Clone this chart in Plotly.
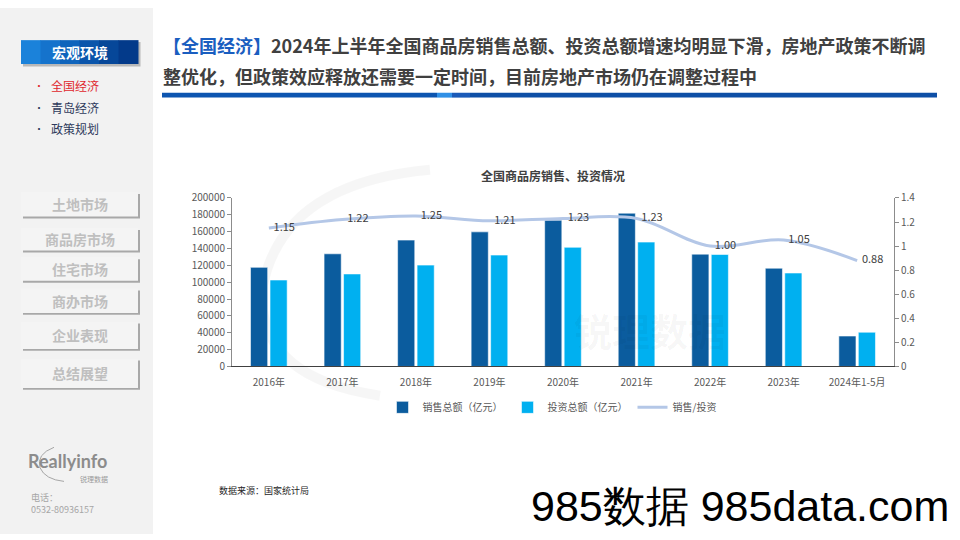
import plotly.graph_objects as go

# ---------------- data ----------------
categories = ["2016年", "2017年", "2018年", "2019年", "2020年", "2021年", "2022年", "2023年", "2024年1-5月"]
sales = [117627, 133701, 149973, 159725, 173613, 181930, 133308, 116622, 36100]
invest = [102581, 109799, 120264, 132194, 141443, 147602, 132895, 110913, 40632]
ratio = [1.15, 1.22, 1.25, 1.21, 1.23, 1.23, 1.00, 1.05, 0.88]

series_names = ["销售总额（亿元）", "投资总额（亿元）", "销售/投资"]
chart_title = "全国商品房销售、投资情况"
header_tag = "【全国经济】"
header_line1 = "2024年上半年全国商品房销售总额、投资总额增速均明显下滑，房地产政策不断调"
header_line2 = "整优化，但政策效应释放还需要一定时间，目前房地产市场仍在调整过程中"
side_top = "宏观环境"
side_sub = ["全国经济", "青岛经济", "政策规划"]
side_buttons = ["土地市场", "商品房市场", "住宅市场", "商办市场", "企业表现", "总结展望"]
source_text = "数据来源：国家统计局"

W, H = 960, 540
FONT = "Noto Sans CJK SC"


def X(px):
    return px / W


def Y(py):
    return 1 - py / H


def note(text, x, y, size, color, xanchor="center", family=FONT):
    return dict(text=text, x=X(x), y=Y(y), xref="paper", yref="paper", showarrow=False,
                xanchor=xanchor, yanchor="middle", font=dict(size=size, color=color, family=family))


fig = go.Figure()

fig.add_trace(go.Bar(
    x=categories, y=sales, name=series_names[0],
    marker=dict(color="#0B5C9E", line=dict(color="rgba(255,255,255,0.7)", width=0.8)),
))
fig.add_trace(go.Bar(
    x=categories, y=invest, name=series_names[1],
    marker=dict(color="#00B0F0", line=dict(color="rgba(255,255,255,0.7)", width=0.8)),
))
fig.add_trace(go.Scatter(
    x=categories, y=ratio, name=series_names[2], yaxis="y2",
    mode="lines+markers+text", line=dict(color="#B4C7E7", width=3, shape="spline", smoothing=1.0),
    marker=dict(size=6, color="rgba(0,0,0,0)"),
    text=[f"{v:.2f}" for v in ratio], textposition="middle right",
    textfont=dict(size=11, color="#404040", family=FONT),
))

shapes = []
annotations = []

# sidebar background
shapes.append(dict(type="rect", xref="paper", yref="paper", x0=0, x1=X(153), y0=0, y1=1,
                   fillcolor="#F2F2F2", line=dict(width=0), layer="below"))

# faint arc of the background logo
shapes.append(dict(type="path", xref="paper", yref="paper", layer="below",
                   path=f"M {X(430)},{Y(166)} Q {X(280)},{Y(180)} {X(262)},{Y(290)} Q {X(258)},{Y(380)} {X(380)},{Y(398)}",
                   line=dict(color="rgba(0,0,0,0.035)", width=10)))

# top blue button with shadow + gradient
shapes.append(dict(type="rect", xref="paper", yref="paper", x0=X(23), x1=X(140.5), y0=Y(60), y1=Y(35),
                   fillcolor="#B8B8B8", line=dict(width=0), layer="below"))
grad = ["#1B82DA", "#1573CC", "#0F64BC", "#0A55AB", "#064799", "#033A8A"]
bx0, bx1 = 21, 138
step = (bx1 - bx0) / len(grad)
for i, c in enumerate(grad):
    shapes.append(dict(type="rect", xref="paper", yref="paper",
                       x0=X(bx0 + i * step), x1=X(bx0 + (i + 1) * step + 0.5), y0=Y(57.5), y1=Y(33),
                       fillcolor=c, line=dict(width=0), layer="below"))
annotations.append(note("<b>" + side_top + "</b>", 79.5, 45.5, 14, "white"))

# sub menu
sub_y = [80, 102, 124]
for i, (t, yy) in enumerate(zip(side_sub, sub_y)):
    col = "#E0282E" if i == 0 else "#2E3A5C"
    annotations.append(note("•", 39, yy, 10, col))
    annotations.append(note(t, 49, yy, 12, col, xanchor="left"))

# grey buttons
btn_boxes = [(189, 214), (226, 249), (256, 280), (288, 313), (322, 350), (360, 390)]
for t, (y0, y1) in zip(side_buttons, btn_boxes):
    shapes.append(dict(type="rect", xref="paper", yref="paper", x0=X(23), x1=X(140), y0=Y(y1 + 2), y1=Y(y0 + 2),
                       fillcolor="#A8A8A8", line=dict(width=0), layer="below"))
    shapes.append(dict(type="rect", xref="paper", yref="paper", x0=X(21), x1=X(138), y0=Y(y1), y1=Y(y0),
                       fillcolor="#F4F4F4", line=dict(width=0), layer="below"))
    annotations.append(note("<b>" + t + "</b>", 79.5, (y0 + y1) / 2, 14, "#BFBFBF"))

# logo & phone
shapes.append(dict(type="path", xref="paper", yref="paper",
                   path=f"M {X(54)},{Y(451)} Q {X(36)},{Y(458)} {X(40)},{Y(472)} Q {X(45)},{Y(484)} {X(64)},{Y(486)}",
                   line=dict(color="#A6A6A6", width=1)))
annotations.append(note("<b>Reallyinfo</b>", 26, 465, 18, "#8C8C8C", xanchor="left", family="Lato"))
annotations.append(note("锐理数据", 110, 483.5, 7, "#9A9A9A", xanchor="right"))
annotations.append(note("电话：", 29, 503, 9, "#A6A6A6", xanchor="left"))
annotations.append(note("0532-80936157", 29, 514.5, 9, "#A6A6A6", xanchor="left"))

# header
annotations.append(note(f"<b><span style='color:#1A5EC0'>{header_tag}</span>{header_line1}</b>",
                        161, 38, 18, "#404040", xanchor="left"))
annotations.append(note(f"<b>{header_line2}</b>", 161, 70, 18, "#404040", xanchor="left"))
bar_segs = [(162, 437, "#0D55B0"), (437, 452, "#3090E6"), (452, 470, "#1A5AB8"), (470, 937, "#0E4FA6")]
for a, b, c in bar_segs:
    shapes.append(dict(type="rect", xref="paper", yref="paper", x0=X(a), x1=X(b), y0=Y(92), y1=Y(87),
                       fillcolor=c, line=dict(width=0)))

# faint background watermark (lower part of the logo)
annotations.append(note("<b>锐理数据</b>", 650, 330, 38, "rgba(0,0,0,0.04)"))

# chart title
annotations.append(note("<b>" + chart_title + "</b>", 553, 172, 12, "#404040"))

# source
annotations.append(note(source_text, 217, 495, 9, "#262626", xanchor="left"))

# site watermark
annotations.append(note("985数据 985data.com", 951, 511, 43, "#000000", xanchor="right",
                        family="Liberation Sans"))

fig.update_layout(
    width=W, height=H,
    margin=dict(l=0, r=0, t=0, b=0),
    paper_bgcolor="white", plot_bgcolor="rgba(0,0,0,0)",
    font=dict(family=FONT, size=10, color="#595959"),
    barmode="group", bargap=0.47, bargroupgap=0.12,
    showlegend=True,
    legend=dict(orientation="h", x=X(552), y=Y(410), xanchor="center", yanchor="middle",
                font=dict(size=10, color="#595959", family=FONT), itemwidth=30, tracegroupgap=0,
                bgcolor="rgba(0,0,0,0)"),
    xaxis=dict(domain=[X(232), X(894)], showgrid=False, showline=True, linecolor="#404040", linewidth=1,
               ticks="outside", ticklen=7, tickcolor="rgba(0,0,0,0)",
               tickfont=dict(size=10, color="#595959")),
    yaxis=dict(domain=[Y(368), Y(195)], range=[0, 200000], dtick=20000, tickformat="d",
               showgrid=False, zeroline=False, showline=True, linecolor="#8C8C8C", linewidth=1,
               ticks="outside", ticklen=4, tickcolor="#8C8C8C", tickfont=dict(size=10, color="#595959")),
    yaxis2=dict(overlaying="y", side="right", range=[0, 1.4], dtick=0.2, anchor="x",
                showgrid=False, zeroline=False, showline=True, linecolor="#8C8C8C", linewidth=1,
                ticks="outside", ticklen=4, tickcolor="#8C8C8C", tickfont=dict(size=10, color="#595959")),
    shapes=shapes,
    annotations=annotations,
)

fig.write_html("out.html", config={"displayModeBar": False},
               post_script="document.body.style.margin='0';document.body.style.padding='0';"
                           "document.body.style.overflow='hidden';")
